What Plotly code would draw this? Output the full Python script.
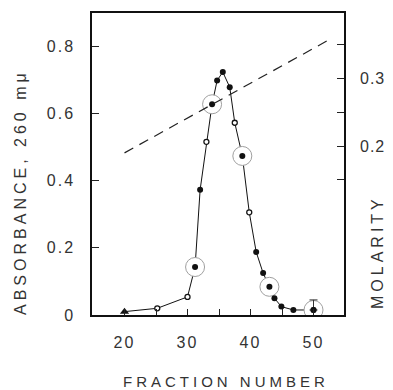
import plotly.graph_objects as go

# ---- data ----
fraction = [20, 25.2, 30, 31.2, 32, 33, 33.9, 34.7, 35.6, 36.7, 37.5, 38.7,
            39.8, 40.9, 42, 43, 43.8, 44.9, 46.8, 50]
absorbance = [0.010, 0.020, 0.054, 0.143, 0.373, 0.516, 0.628, 0.699, 0.724,
              0.679, 0.573, 0.474, 0.306, 0.188, 0.125, 0.084, 0.050, 0.025,
              0.015, 0.015]
open_fractions = [25.2, 30, 33, 37.5, 39.8]
triangle_fractions = [20]
circled_fractions = [31.2, 33.9, 38.7, 43, 50]
errbar_fraction = [50]
errbar_up = [0.03]

molarity_fraction = [20, 52.4]
molarity = [0.19, 0.357]

y_tickvals = [0, 0.2, 0.4, 0.6, 0.8]
y_ticktext = ["0", "0.2", "0.4", "0.6", "0.8"]
y2_tickvals = [0.15, 0.2, 0.25, 0.3, 0.35]
y2_ticktext = ["", "0.2", "", "0.3", ""]
x_tickvals = [20, 25, 30, 35, 40, 45, 50]
x_ticktext = ["20", "", "30", "", "40", "", "50"]

lookup = dict(zip(fraction, absorbance))
filled_fractions = [f for f in fraction
                    if f not in open_fractions and f not in triangle_fractions]

fig = go.Figure()

# connecting line
fig.add_trace(go.Scatter(x=fraction, y=absorbance, mode="lines",
                         line=dict(color="#111", width=1), showlegend=False,
                         hoverinfo="skip"))
# circled points
fig.add_trace(go.Scatter(x=circled_fractions,
                         y=[lookup[f] for f in circled_fractions],
                         mode="markers",
                         marker=dict(symbol="circle", size=19, color="white",
                                     line=dict(color="#a0a0a0", width=1)),
                         showlegend=False))
# filled points
fig.add_trace(go.Scatter(x=filled_fractions,
                         y=[lookup[f] for f in filled_fractions],
                         mode="markers",
                         marker=dict(symbol="circle", size=6, color="#111",
                                     line=dict(width=0)),
                         showlegend=False))
# open points
fig.add_trace(go.Scatter(x=open_fractions,
                         y=[lookup[f] for f in open_fractions],
                         mode="markers",
                         marker=dict(symbol="circle", size=5, color="white",
                                     line=dict(color="#111", width=1.3)),
                         showlegend=False))
# triangle point
fig.add_trace(go.Scatter(x=triangle_fractions,
                         y=[lookup[f] for f in triangle_fractions],
                         mode="markers",
                         marker=dict(symbol="triangle-up", size=8, color="#111"),
                         showlegend=False))
# error bar at fraction 50
fig.add_trace(go.Scatter(x=errbar_fraction,
                         y=[lookup[f] for f in errbar_fraction],
                         mode="markers", marker=dict(size=6, color="#111"),
                         error_y=dict(type="data", array=errbar_up,
                                      arrayminus=[0], color="#333",
                                      thickness=1, width=4),
                         showlegend=False))
# molarity gradient
fig.add_trace(go.Scatter(x=molarity_fraction, y=molarity, mode="lines",
                         yaxis="y2",
                         line=dict(color="#222", width=1.2, dash="10px,7px"),
                         showlegend=False))

FONT = "Liberation Sans, Arial, sans-serif"
tickfont = dict(family=FONT, size=16, color="#333")

fig.update_layout(
    width=393, height=390,
    margin=dict(l=92, r=45, t=11, b=75),
    paper_bgcolor="white", plot_bgcolor="white",
    showlegend=False,
    xaxis=dict(range=[14.84, 54.84], tickvals=x_tickvals, ticktext=x_ticktext,
               ticks="inside", ticklen=6, tickcolor="#222", tickwidth=1,
               showgrid=False, zeroline=False, showline=True,
               linecolor="#111", linewidth=1.5, mirror=True,
               tickfont=tickfont, ticklabelstandoff=12),
    yaxis=dict(range=[0, 0.9], tickvals=y_tickvals, ticktext=y_ticktext,
               ticks="inside", ticklen=7, tickcolor="#222", tickwidth=1,
               showgrid=False, zeroline=False, showline=True,
               linecolor="#111", linewidth=1.5, mirror=True,
               tickfont=tickfont, ticklabelstandoff=12),
    yaxis2=dict(range=[-0.05, 0.397], overlaying="y", side="right",
                tickvals=y2_tickvals, ticktext=y2_ticktext,
                ticks="inside", ticklen=7, tickcolor="#222", tickwidth=1,
                showgrid=False, zeroline=False, showline=False,
                tickfont=tickfont, ticklabelstandoff=15),
    annotations=[
        dict(text="ABSORBANCE, 260 mμ", xref="paper", yref="paper",
             x=-0.281, y=0.408, xanchor="center", yanchor="middle",
             textangle=-90, showarrow=False,
             font=dict(family=FONT, size=16, color="#333")),
        dict(text="MOLARITY", xref="paper", yref="paper",
             x=1.133, y=0.207, xanchor="center", yanchor="middle",
             textangle=-90, showarrow=False,
             font=dict(family=FONT, size=16, color="#333")),
        dict(text="FRACTION NUMBER", xref="paper", yref="paper",
             x=0.53, y=-0.22, xanchor="center", yanchor="middle",
             showarrow=False,
             font=dict(family=FONT, size=15, color="#333")),
    ],
)

post = """
document.body.style.margin = '0';
document.querySelectorAll('.annotation-text').forEach(function(e){
  e.style.letterSpacing = '4px';
});
document.querySelectorAll('.xtick text, .ytick text').forEach(function(e){
  e.style.letterSpacing = '2px';
});
document.querySelectorAll('.y2tick text').forEach(function(e){
  e.style.letterSpacing = '1px';
});
"""

fig.write_html("out.html", post_script=post,
               config={"displayModeBar": False})
